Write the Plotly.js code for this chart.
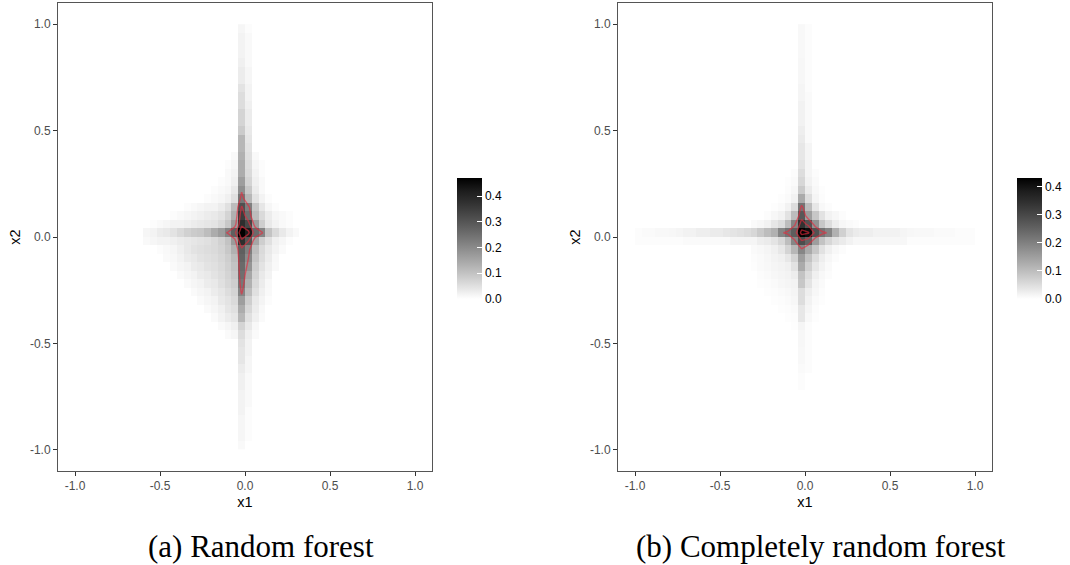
<!DOCTYPE html>
<html><head><meta charset="utf-8">
<script src="https://cdn.plot.ly/plotly-3.0.1.min.js"></script>
<style>html,body{margin:0;padding:0;background:#fff}#chart{width:1070px;height:565px}</style>
</head><body><div id="chart"></div>
<script>
// ---------- shared axis ticks ----------
const tickValues = [-1, -0.5, 0, 0.5, 1];
const tickLabels = ["-1.0", "-0.5", "0.0", "0.5", "1.0"];
const barTickValues = [0, 0.1, 0.2, 0.3, 0.4];
const barTickLabels = ["0.0", "0.1", "0.2", "0.3", "0.4"];
const captions = ["(a) Random forest", "(b) Completely random forest"];

// ---------- (a) Random forest ----------
// vertical stripe at x=-0.02 and x=0.02, rows from y=0.98 (top) to y=-0.98 (bottom)
const rfColMain = [0.015,0.02,0.02,0.02,0.025,0.03,0.03,0.045,0.055,0.055,0.07,0.07,0.085,0.12,0.12,0.13,0.14,0.14,0.165,0.19,0.235,0.31,0.35,0.38,0.47,0.38,0.28,0.27,0.26,0.25,0.235,0.21,0.165,0.14,0.12,0.07,0.055,0.045,0.04,0.04,0.03,0.025,0.025,0.02,0.02,0.02,0.015,0.015,0.015,0.01];
const rfColSide = [0.005,0.01,0.01,0.01,0.01,0.015,0.015,0.02,0.02,0.025,0.03,0.03,0.035,0.04,0.045,0.05,0.055,0.06,0.07,0.09,0.12,0.22,0.25,0.33,0.42,0.3,0.22,0.2,0.18,0.15,0.13,0.11,0.08,0.065,0.05,0.035,0.025,0.02,0.02,0.015,0.015,0.01,0.01,0.01,0.01,0.005,0.005,0.005,0.005,0];
// central block: rows y=0.38 .. -0.46, columns x=-0.58 .. 0.30
const rfBlockTopY = 0.38, rfBlockLeftX = -0.58;
const rfBlock = [
 [0,0,0,0,0,0,0,0,0,0,0,0,0,.01,.13,.05,.01,0,0,0,0,0,0],
 [0,0,0,0,0,0,0,0,0,0,0,0,.005,.015,.14,.055,.015,.005,0,0,0,0,0],
 [0,0,0,0,0,0,0,0,0,0,0,0,.01,.02,.14,.06,.02,.005,0,0,0,0,0],
 [0,0,0,0,0,0,0,0,0,0,0,.005,.01,.025,.165,.07,.025,.01,0,0,0,0,0],
 [0,0,0,0,0,0,0,0,0,0,.005,.01,.015,.035,.19,.09,.03,.01,0,0,0,0,0],
 [0,0,0,0,0,0,0,0,0,.005,.01,.015,.025,.05,.235,.12,.045,.02,.005,0,0,0,0],
 [0,0,0,0,0,0,.005,.01,.015,.02,.02,.03,.05,.11,.31,.22,.09,.04,.015,.005,0,0,0],
 [0,0,0,0,.005,.01,.015,.02,.025,.03,.035,.045,.07,.13,.35,.25,.11,.06,.03,.015,.01,.005,0],
 [0,.005,.01,.015,.02,.02,.025,.03,.035,.04,.045,.06,.09,.165,.38,.33,.165,.08,.035,.02,.01,.005,0],
 [.015,.02,.03,.035,.045,.06,.075,.085,.09,.11,.14,.165,.21,.28,.47,.42,.26,.21,.1,.06,.035,.02,.01],
 [.01,.015,.02,.02,.025,.03,.035,.04,.045,.05,.06,.075,.1,.17,.38,.3,.15,.08,.05,.025,.015,.005,0],
 [0,0,.005,.01,.015,.025,.035,.045,.05,.055,.06,.07,.09,.13,.28,.22,.11,.06,.035,.02,.008,0,0],
 [0,0,0,.008,.012,.02,.03,.035,.045,.05,.055,.065,.08,.11,.27,.2,.095,.055,.03,.012,0,0,0],
 [0,0,0,0,.008,.015,.02,.03,.035,.045,.05,.06,.075,.1,.26,.18,.08,.045,.025,.01,0,0,0],
 [0,0,0,0,0,.008,.015,.02,.03,.035,.045,.055,.07,.09,.25,.15,.07,.035,.02,0,0,0,0],
 [0,0,0,0,0,0,.008,.015,.02,.03,.035,.05,.065,.08,.235,.13,.06,.03,.012,0,0,0,0],
 [0,0,0,0,0,0,0,.008,.015,.02,.03,.04,.055,.07,.21,.11,.05,.025,.01,0,0,0,0],
 [0,0,0,0,0,0,0,0,.008,.015,.02,.035,.045,.06,.165,.08,.035,.018,.005,0,0,0,0],
 [0,0,0,0,0,0,0,0,0,.008,.015,.025,.04,.05,.14,.065,.03,.012,0,0,0,0,0],
 [0,0,0,0,0,0,0,0,0,0,.008,.02,.03,.04,.12,.05,.025,.008,0,0,0,0,0],
 [0,0,0,0,0,0,0,0,0,0,0,.008,.015,.025,.07,.035,.012,0,0,0,0,0,0],
 [0,0,0,0,0,0,0,0,0,0,0,0,.008,.015,.055,.025,.008,0,0,0,0,0,0]
];
const rfMax = 0.47;

// ---------- (b) Completely random forest ----------
const crfColMain = [0.01,0.01,0.01,0.01,0.012,0.012,0.012,0.015,0.015,0.02,0.02,0.02,0.025,0.03,0.035,0.035,0.04,0.05,0.06,0.08,0.13,0.22,0.27,0.34,0.43,0.29,0.19,0.15,0.13,0.09,0.085,0.05,0.05,0.035,0.035,0.015,0.012,0.012,0.01,0.01,0.008,0.005,0.005,0,0,0,0,0,0,0];
const crfColSide = [0.005,0.005,0.005,0.005,0.005,0.005,0.005,0.005,0.008,0.008,0.008,0.008,0.008,0.008,0.015,0.015,0.015,0.015,0.02,0.03,0.05,0.1,0.15,0.28,0.41,0.25,0.13,0.09,0.07,0.05,0.04,0.025,0.02,0.015,0.01,0.005,0.005,0.005,0.005,0.005,0.005,0,0,0,0,0,0,0,0,0];
// horizontal stripe at y=0.02 and y=-0.02, columns from x=-0.98 to x=0.98
const crfRowMain = [0.005,0.008,0.008,0.01,0.01,0.012,0.015,0.02,0.02,0.025,0.025,0.03,0.03,0.035,0.04,0.045,0.05,0.06,0.08,0.1,0.12,0.19,0.22,0.26,0.43,0.41,0.28,0.22,0.19,0.12,0.07,0.04,0.03,0.025,0.025,0.02,0.02,0.02,0.02,0.015,0.012,0.01,0.01,0.01,0.008,0.008,0.008,0.005,0.005,0.005];
const crfRowSide = [0.004,0.004,0.004,0.004,0.004,0.004,0.004,0.008,0.008,0.008,0.008,0.008,0.008,0.008,0.015,0.015,0.015,0.015,0.025,0.03,0.04,0.06,0.1,0.19,0.29,0.25,0.15,0.09,0.06,0.04,0.03,0.02,0.012,0.012,0.012,0.012,0.012,0.012,0.012,0.012,0.004,0.004,0.004,0.004,0.004,0.004,0.004,0.004,0.004,0.004];
// central block: rows y=0.30 .. -0.42, columns x=-0.30 .. 0.30
const crfBlockTopY = 0.30, crfBlockLeftX = -0.30;
const crfBlock = [
 [0,0,0,0,0,0,.005,.05,.015,.005,0,0,0,0,0,0],
 [0,0,0,0,0,.003,.008,.06,.02,.008,0,0,0,0,0,0],
 [0,0,0,0,0,.005,.012,.08,.03,.01,.003,0,0,0,0,0],
 [0,0,0,0,.003,.008,.02,.13,.05,.015,.005,0,0,0,0,0],
 [0,0,0,.003,.008,.02,.05,.22,.1,.035,.01,.005,0,0,0,0],
 [0,0,.005,.012,.02,.043,.1,.27,.15,.085,.043,.02,.012,.005,0,0],
 [.008,.012,.02,.035,.05,.1,.19,.34,.28,.17,.085,.05,.025,.012,.008,.005],
 [.06,.08,.1,.12,.19,.22,.26,.43,.41,.28,.22,.19,.12,.07,.04,.03],
 [.015,.025,.03,.04,.06,.1,.19,.29,.25,.15,.09,.06,.04,.03,.02,.012],
 [.008,.01,.015,.022,.035,.065,.11,.19,.13,.085,.043,.022,.01,.005,0,0],
 [.005,.008,.012,.018,.022,.035,.065,.15,.09,.05,.025,.012,.005,0,0,0],
 [.003,.008,.01,.015,.018,.022,.043,.13,.07,.035,.018,.008,0,0,0,0],
 [0,.005,.008,.012,.015,.018,.026,.09,.05,.022,.01,.005,0,0,0,0],
 [0,.003,.005,.008,.012,.015,.018,.085,.04,.015,.008,0,0,0,0,0],
 [0,0,.003,.005,.008,.01,.015,.05,.025,.012,.005,0,0,0,0,0],
 [0,0,0,.003,.005,.008,.012,.05,.02,.008,.003,0,0,0,0,0],
 [0,0,0,0,.003,.005,.008,.035,.015,.005,0,0,0,0,0,0],
 [0,0,0,0,0,.003,.005,.035,.01,.003,0,0,0,0,0,0],
 [0,0,0,0,0,0,.003,.015,.005,0,0,0,0,0,0,0]
];
const crfMax = 0.43;

// ---------- grid assembly ----------
const X0 = -0.98, DX = 0.04, N = 50;
function idxX(x){ return Math.round((x - X0) / DX); }
function idxRowTop(y){ return Math.round((0.98 - y) / DX); }
function buildGrid(d){
  const z = [];
  for (let r = 0; r < N; r++){ const row = []; for (let c = 0; c < N; c++) row.push(0); z.push(row); }
  const cm = idxX(-0.02), cs = idxX(0.02), rm = idxRowTop(0.02), rs = idxRowTop(-0.02);
  for (let r = 0; r < N; r++){ z[r][cm] = d.colMain[r]; z[r][cs] = d.colSide[r]; }
  if (d.rowMain) for (let c = 0; c < N; c++){ z[rm][c] = d.rowMain[c]; z[rs][c] = d.rowSide[c]; }
  const r0 = idxRowTop(d.blockTopY), c0 = idxX(d.blockLeftX);
  d.block.forEach((row, i) => row.forEach((v, j) => { z[r0 + i][c0 + j] = v; }));
  return z.reverse();
}
const zRF = buildGrid({colMain: rfColMain, colSide: rfColSide, block: rfBlock, blockTopY: rfBlockTopY, blockLeftX: rfBlockLeftX});
const zCRF = buildGrid({colMain: crfColMain, colSide: crfColSide, rowMain: crfRowMain, rowSide: crfRowSide, block: crfBlock, blockTopY: crfBlockTopY, blockLeftX: crfBlockLeftX});

// ---------- styling ----------
const W = 1070, H = 565;
const grayLab = [[0,'rgb(255,255,255)'],[0.1,'rgb(226,226,226)'],[0.2,'rgb(198,198,198)'],[0.3,'rgb(171,171,171)'],[0.4,'rgb(145,145,145)'],[0.5,'rgb(119,119,119)'],[0.6,'rgb(94,94,94)'],[0.7,'rgb(71,71,71)'],[0.8,'rgb(48,48,48)'],[0.9,'rgb(27,27,27)'],[1,'rgb(0,0,0)']];
const SANS = 'Liberation Sans, Arial, sans-serif';
const contourLine = {color: 'rgba(230,40,60,0.62)', width: 1.4, smoothing: 0};

function colorbar(xPix){
  return {x: xPix / W, xanchor: 'left', xpad: 0, ypad: 0, y: 1 - 178 / H, yanchor: 'top',
    len: 121, lenmode: 'pixels', thickness: 25, outlinewidth: 0,
    tickmode: 'array', tickvals: barTickValues, ticktext: barTickLabels,
    ticks: 'inside', ticklen: 5, tickcolor: '#ffffff', tickwidth: 1,
    tickfont: {family: SANS, size: 12, color: '#000000'}};
}
function heat(z, zmax, xa, ya, cbx){
  return {type: 'heatmap', z: z, x0: X0, dx: DX, y0: X0, dy: DX, xaxis: xa, yaxis: ya,
    colorscale: grayLab, zmin: 0, zmax: zmax, zsmooth: false, hoverinfo: 'skip', colorbar: colorbar(cbx)};
}
function cont(z, xa, ya){
  return {type: 'contour', z: z, x0: X0, dx: DX, y0: X0, dy: DX, xaxis: xa, yaxis: ya,
    autocontour: false, contours: {coloring: 'none', start: 0.2, end: 0.4, size: 0.1, showlabels: false},
    line: contourLine, showscale: false, hoverinfo: 'skip'};
}
function xAxis(d0, d1, anchor){
  return {domain: [d0 / W, d1 / W], anchor: anchor, range: [-1.1, 1.1], tickmode: 'array', tickvals: tickValues, ticktext: tickLabels,
    ticks: 'outside', ticklen: 4, tickcolor: '#333333', tickwidth: 1, showgrid: false, zeroline: false,
    showline: true, mirror: true, linecolor: '#555555', linewidth: 1,
    tickfont: {family: SANS, size: 12, color: '#4d4d4d'},
    title: {text: 'x1', font: {family: SANS, size: 14.5, color: '#000000'}, standoff: 4}};
}
function yAxis(anchor){
  return {domain: [1 - 471 / H, 1 - 3 / H], anchor: anchor, range: [-1.1, 1.1], tickmode: 'array', tickvals: tickValues, ticktext: tickLabels,
    ticks: 'outside', ticklen: 4, tickcolor: '#333333', tickwidth: 1, showgrid: false, zeroline: false,
    showline: true, mirror: true, linecolor: '#555555', linewidth: 1,
    tickfont: {family: SANS, size: 12, color: '#4d4d4d'},
    title: {text: 'x2', font: {family: SANS, size: 14.5, color: '#000000'}, standoff: 5}};
}

const data = [
  heat(zRF, rfMax, 'x', 'y', 457), cont(zRF, 'x', 'y'),
  heat(zCRF, crfMax, 'x2', 'y2', 1017), cont(zCRF, 'x2', 'y2')
];
const layout = {
  width: W, height: H, margin: {l: 0, r: 0, t: 0, b: 0},
  paper_bgcolor: '#ffffff', plot_bgcolor: '#ffffff', showlegend: false,
  font: {family: SANS},
  xaxis: xAxis(58, 432, 'y'), yaxis: yAxis('x'),
  xaxis2: xAxis(618, 992, 'y2'), yaxis2: yAxis('x2'),
  annotations: [
    {text: captions[0], xref: 'paper', yref: 'paper', x: 261 / W, y: 1 - 546 / H, xanchor: 'center', yanchor: 'middle', showarrow: false,
     font: {family: 'Liberation Serif, Times New Roman, serif', size: 31, color: '#000000'}},
    {text: captions[1], xref: 'paper', yref: 'paper', x: 821 / W, y: 1 - 546 / H, xanchor: 'center', yanchor: 'middle', showarrow: false,
     font: {family: 'Liberation Serif, Times New Roman, serif', size: 31, color: '#000000'}}
  ]
};
Plotly.newPlot('chart', data, layout, {displayModeBar: false, staticPlot: true});
</script>
</body></html>
